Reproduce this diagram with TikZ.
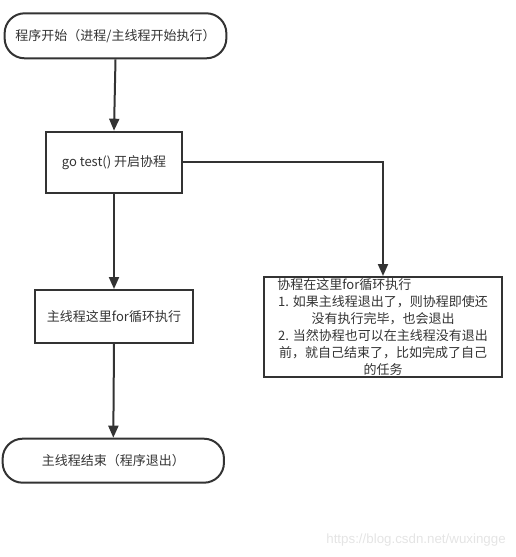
\documentclass[tikz,border=0pt]{standalone}
\usepackage{fontspec}
\newfontfamily\cjk{Noto Sans CJK SC}
\setsansfont{Liberation Sans}
\usetikzlibrary{arrows.meta}
\definecolor{ink}{HTML}{333333}
\definecolor{mark}{HTML}{E4E4E4}
\begin{document}
\begin{tikzpicture}[x=0.75pt,y=-0.75pt,
	every node/.style={font=\cjk\fontsize{9.75}{12.75}\selectfont,text=ink,inner sep=0pt},
	box/.style={draw=ink,line width=1.5pt,align=center},
	term/.style={box,rounded corners=15pt},
	flow/.style={draw=ink,line width=1.5pt,-{Triangle[length=9pt,width=7.5pt]}}]
		\useasboundingbox (0,0) rectangle (516,557);
		\node[term,minimum width=166.3pt,minimum height=33.75pt] (start) at (115.5,35.8) {程序开始（进程/主线程开始执行）};
		\node[box,minimum width=102.4pt,minimum height=45.75pt] (gotest) at (114,162.2) {go test() 开启协程};
		\node[box,minimum width=118.7pt,minimum height=39.75pt] (mainloop) at (114,316.5) {主线程这里for循环执行};
		\node[box,minimum width=178.5pt,minimum height=75pt] (coloop) at (383,327) {协程在这里for循环执行\hspace*{58pt}\\1. 如果主线程退出了，则协程即使还\\没有执行完毕，也会退出\\2. 当然协程也可以在主线程没有退出\\前，就自己结束了，比如完成了自己\\的任务};
		\node[term,minimum width=166pt,minimum height=33pt] (finish) at (113.3,460.7) {主线程结束（程序退出）};
		\draw[flow] (start.south) -- (gotest.north);
		\draw[flow] (gotest.south) -- (mainloop.north);
		\draw[flow] (mainloop.south) -- (finish.north);
		\draw[flow] (gotest.east) -| (coloop.north);
		\node[font=\sffamily\fontsize{10}{12}\selectfont,text=mark,anchor=east] (url) at (506,540) {https://blog.csdn.net/wuxingge};
\end{tikzpicture}
\end{document}
